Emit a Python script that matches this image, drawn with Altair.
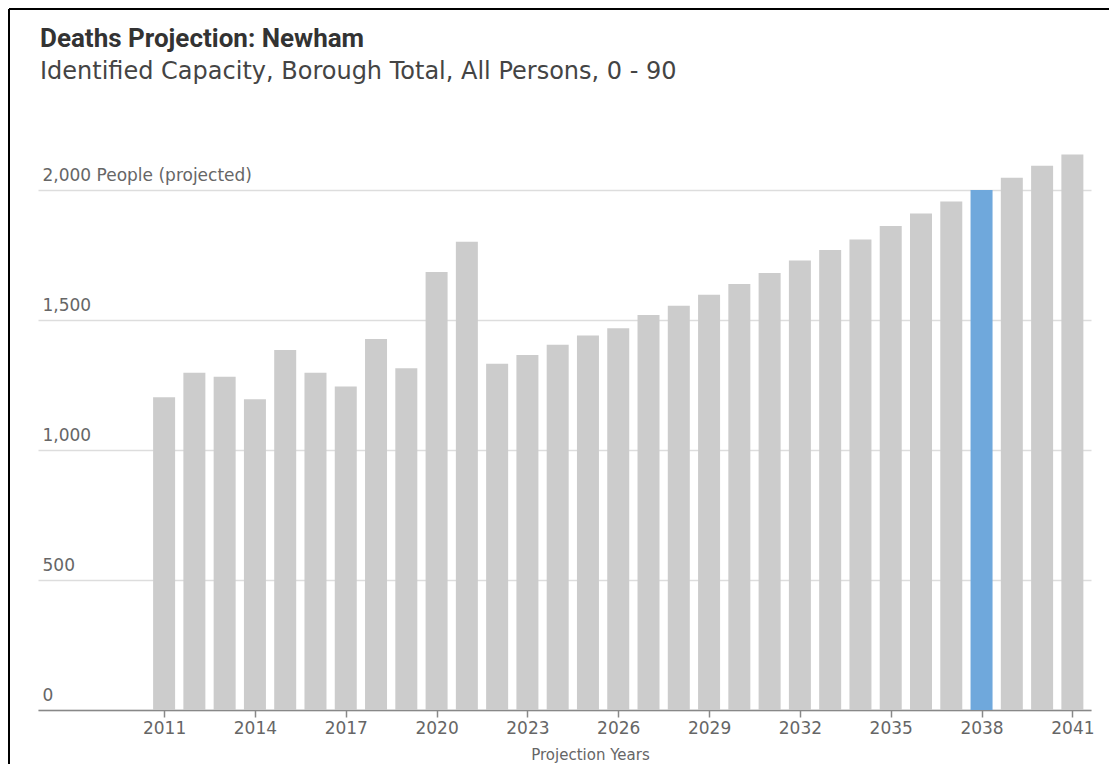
import altair as alt
import pandas as pd

years = list(range(2011, 2042))
deaths = [1203, 1297, 1282, 1195, 1385, 1297, 1244, 1427, 1314, 1685,
          1801, 1332, 1365, 1405, 1440, 1468, 1519, 1555, 1597, 1638,
          1681, 1729, 1769, 1810, 1862, 1910, 1956, 2000, 2047, 2093, 2137]
highlight_year = 2038
x_tick_values = [2011, 2014, 2017, 2020, 2023, 2026, 2029, 2032, 2035, 2038, 2041]
y_tick_values = [0, 500, 1000, 1500, 2000]

df = pd.DataFrame({"year": years, "deaths": deaths})

GRAY = "#cccccc"
BLUE = "#6fa8dc"
TFONT = "Roboto"
LFONT = "DejaVu Sans"

bars = alt.Chart(df).mark_bar(size=22).encode(
    x=alt.X(
        "year:Q",
        scale=alt.Scale(domain=[2007.0, 2041.45], nice=False, zero=False),
        axis=alt.Axis(
            values=x_tick_values,
            format="d",
            title="Projection Years",
            grid=False,
            domainColor="#888888",
            domainWidth=1.5,
            tickColor="#888888",
            tickWidth=1.5,
            tickSize=7,
            labelPadding=3,
            labelColor="#666666",
            labelFontSize=17,
            labelFont=LFONT,
            titleFont=LFONT,
            titleFontSize=15,
            titleFontWeight="normal",
            titleColor="#666666",
            titleX=552,
            titleY=49,
            titleAlign="center",
            titleBaseline="alphabetic",
        ),
    ),
    y=alt.Y(
        "deaths:Q",
        scale=alt.Scale(domain=[0, 2200], nice=False),
        axis=alt.Axis(
            values=y_tick_values,
            title=None,
            domain=False,
            ticks=False,
            tickSize=0,
            grid=True,
            gridColor="#dddddd",
            gridWidth=1.5,
            labelAlign="left",
            labelBaseline="alphabetic",
            labelPadding=-4,
            labelOffset=-10,
            labelLimit=0,
            labelColor="#666666",
            labelFontSize=17,
            labelFont=LFONT,
            labelExpr="datum.value == 2000 ? datum.label + ' People (projected)' : datum.label",
        ),
    ),
    color=alt.condition(
        alt.datum.year == highlight_year, alt.value(BLUE), alt.value(GRAY)
    ),
)

# decorative frame lines (top and left edge of the screenshot)
frame_top = alt.Chart(df).mark_rule(color="#000000", strokeWidth=2).encode(
    x=alt.value(-29), x2=alt.value(1071), y=alt.value(-129)
)
frame_left = alt.Chart(df).mark_rule(color="#000000", strokeWidth=2).encode(
    x=alt.value(-29), y=alt.value(-129), y2=alt.value(630)
)

chart = alt.layer(bars, frame_top, frame_left).properties(
    width=1053,
    height=572,
    autosize=alt.AutoSizeParams(type="none"),
    padding={"left": 30, "top": 130, "right": 18, "bottom": 54},
    title=alt.TitleParams(
        text="Deaths Projection: Newham",
        subtitle="Identified Capacity, Borough Total, All Persons, 0 - 90",
        anchor="start",
        frame="group",
        font=TFONT,
        fontSize=26,
        fontWeight="bold",
        color="#333333",
        subtitleFont=LFONT,
        subtitleFontSize=24,
        subtitleColor="#444444",
        subtitlePadding=8,
        offset=-76,
        dx=2,
    ),
).configure_view(stroke=None)

chart.save("out.html", embed_options={"renderer": "svg", "actions": False})
